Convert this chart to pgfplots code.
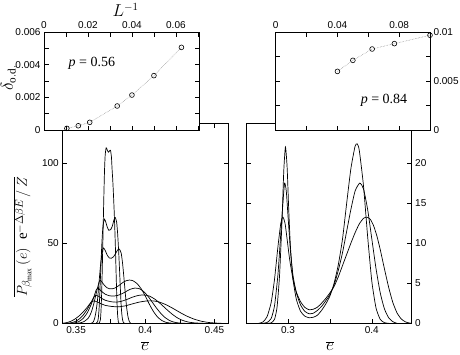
\documentclass[border=0pt]{standalone}
\usepackage{fontspec}
\setmainfont{Liberation Serif}
\setsansfont{Liberation Sans}
\usepackage{pgfplots}
\pgfplotsset{compat=1.18}

\pgfplotsset{
  panel/.style={
    scale only axis,
    axis line style={line width=0.8pt},
    tick style={line width=0.6pt, black},
    major tick length=4.5pt, minor tick length=4.5pt,
    ticklabel style={font=\sffamily\fontsize{10}{11}\selectfont},
    /pgf/number format/assume math mode=true,
    /pgf/number format/fixed,
    scaled ticks=false,
  },
  dist/.style={black, line width=0.7pt, smooth, tension=0.35, no marks},
  od/.style={gray, line width=0.5pt, densely dotted, mark=o,
    mark size=2.4pt, mark options={solid, black, line width=0.6pt}},
}

\begin{document}
\begin{tikzpicture}[x=1pt, y=1pt]
\useasboundingbox (0,0) rectangle (460,354);

% ---------------- p = 0.56 : energy distributions ----------------
\begin{axis}[panel, at={(62.3pt,30.7pt)}, anchor=south west,
  width=166pt, height=200.3pt,
  xmin=0.34, xmax=0.46, ymin=0, ymax=125,
  xtick={0.35,0.4,0.45}, minor xtick={0.375,0.425},
  ytick={0,50,100},
  xticklabel style={/pgf/number format/precision=2}]
% L = 96
\addplot[dist] coordinates {
 (0.3665,0) (0.3675,2) (0.368,8) (0.3685,20) (0.369,38) (0.3695,58)
 (0.370,78) (0.3705,95) (0.371,105) (0.3717,109.5) (0.3725,108.2)
 (0.3733,106.8) (0.374,107.4) (0.3748,108) (0.3755,104) (0.376,96)
 (0.3765,89) (0.377,80) (0.3775,70) (0.378,58) (0.3785,44) (0.379,28)
 (0.3795,14) (0.380,5) (0.3805,1) (0.381,0)};
% L = 64
\addplot[dist] coordinates {
 (0.3645,0) (0.3655,1) (0.366,3) (0.3665,8) (0.367,16) (0.3675,27)
 (0.368,38) (0.3685,48) (0.369,56) (0.3695,61.5) (0.3705,65) (0.3715,63)
 (0.3725,60) (0.3737,58) (0.375,58.5) (0.3763,61) (0.3773,64.5)
 (0.3783,66) (0.3793,63) (0.380,56) (0.3808,44) (0.3815,31) (0.382,21)
 (0.3825,12) (0.383,6) (0.3835,2.5) (0.384,0.8) (0.385,0)};
% L = 48
\addplot[dist] coordinates {
 (0.361,0) (0.3625,1) (0.3635,3.5) (0.3645,8) (0.3655,15) (0.3665,25)
 (0.3675,35) (0.3685,42.5) (0.3697,47) (0.371,45.5) (0.3725,42.5)
 (0.374,40.8) (0.3754,40.6) (0.377,41.5) (0.3785,43.5) (0.380,45.8)
 (0.3812,46.3) (0.3825,44) (0.3835,38) (0.3845,29) (0.3855,19)
 (0.3865,10) (0.3875,4) (0.3885,1) (0.3895,0)};
% L = 30
\addplot[dist] coordinates {
 (0.350,0) (0.353,0.3) (0.356,1.2) (0.359,3.5) (0.361,7) (0.363,13)
 (0.365,20.5) (0.3665,25.5) (0.3673,27) (0.368,26.5) (0.370,24.2)
 (0.372,22.3) (0.374,21.6) (0.376,21.5) (0.378,22) (0.380,23)
 (0.382,24.3) (0.384,25.6) (0.386,26.5) (0.3885,27) (0.391,26.6)
 (0.394,24.8) (0.397,21.6) (0.400,17) (0.403,11.8) (0.406,7.2)
 (0.409,3.8) (0.412,1.7) (0.415,0.6) (0.418,0.15) (0.421,0)};
% L = 25
\addplot[dist] coordinates {
 (0.346,0) (0.349,0.3) (0.352,1.1) (0.355,3) (0.358,6.5) (0.361,12)
 (0.363,17) (0.3645,20.8) (0.3655,22) (0.3665,21.6) (0.368,20.2)
 (0.371,18.2) (0.374,17.2) (0.377,17) (0.380,17.4) (0.383,18.4)
 (0.386,19.8) (0.389,21.2) (0.3925,22) (0.396,21.5) (0.399,19.7)
 (0.402,16.8) (0.405,13.2) (0.408,9.6) (0.411,6.4) (0.414,3.8)
 (0.417,2.0) (0.420,0.9) (0.423,0.35) (0.426,0.1) (0.429,0)};
% L = 20
\addplot[dist] coordinates {
 (0.343,0) (0.346,0.3) (0.349,1) (0.352,2.5) (0.355,5) (0.358,8.7)
 (0.361,13.5) (0.363,16.5) (0.364,17.4) (0.3655,17.2) (0.368,15.8)
 (0.371,14.4) (0.375,13.5) (0.379,13.2) (0.383,13.8) (0.387,15)
 (0.391,16.4) (0.395,17.4) (0.399,17.7) (0.403,17) (0.407,15)
 (0.411,12.2) (0.415,9) (0.419,6) (0.423,3.5) (0.427,1.8) (0.431,0.8)
 (0.435,0.3) (0.439,0.08) (0.442,0)};
% L = 16
\addplot[dist] coordinates {
 (0.340,0) (0.343,0.4) (0.346,1.2) (0.349,2.6) (0.352,4.5) (0.355,7)
 (0.358,10) (0.3605,12.8) (0.3625,14) (0.364,13.8) (0.367,12.6)
 (0.371,11.2) (0.376,10.5) (0.381,10.3) (0.386,11) (0.391,12.2)
 (0.396,13.3) (0.4005,13.9) (0.4055,14) (0.410,13.3) (0.415,11.6)
 (0.420,9.3) (0.425,6.8) (0.430,4.5) (0.435,2.7) (0.440,1.4)
 (0.445,0.6) (0.450,0.2) (0.455,0)};
\end{axis}

% ---------------- p = 0.84 : energy distributions ----------------
\begin{axis}[panel, at={(246pt,30.7pt)}, anchor=south west,
  width=165.7pt, height=200.3pt,
  xmin=0.25, xmax=0.4475, ymin=0, ymax=25,
  xtick={0.3,0.4}, minor xtick={0.25,0.35,0.45},
  ytick={0,5,10,15,20}, yticklabel pos=right,
  xticklabel style={/pgf/number format/precision=2}]
\addplot[dist] coordinates {
 (0.275,0) (0.280,0.05) (0.284,0.5) (0.287,2) (0.290,6) (0.293,13)
 (0.295,19) (0.297,22) (0.299,19.5) (0.301,14) (0.303,9.5) (0.306,5.5)
 (0.310,3) (0.315,1.5) (0.320,0.9) (0.325,0.7) (0.330,0.75) (0.335,1.0)
 (0.340,1.6) (0.345,2.4) (0.350,3.4) (0.355,5.0) (0.360,7.3) (0.365,10.5)
 (0.370,15) (0.375,19.3) (0.380,22.1) (0.3825,22.4) (0.385,21.6)
 (0.390,17.2) (0.395,10.8) (0.400,5.2) (0.405,1.9) (0.410,0.5)
 (0.415,0.08) (0.420,0)};
\addplot[dist] coordinates {
 (0.270,0) (0.275,0.1) (0.280,0.6) (0.284,2.2) (0.288,6) (0.291,10.5)
 (0.294,15) (0.296,17.5) (0.298,16.5) (0.300,13.5) (0.303,9) (0.306,6)
 (0.310,3.8) (0.315,2.3) (0.320,1.5) (0.325,1.2) (0.330,1.25) (0.335,1.6)
 (0.340,2.1) (0.345,2.8) (0.350,3.6) (0.355,4.8) (0.360,6.6) (0.365,8.8)
 (0.370,11.5) (0.375,14.2) (0.380,16.5) (0.3855,17.5) (0.390,16.8)
 (0.395,14.2) (0.400,10.5) (0.405,6.8) (0.410,3.8) (0.415,1.8)
 (0.420,0.7) (0.425,0.2) (0.430,0)};
\addplot[dist] coordinates {
 (0.265,0) (0.270,0.15) (0.275,0.8) (0.280,2.6) (0.284,5.5) (0.288,9.5)
 (0.2915,12.5) (0.294,13.25) (0.2965,12.5) (0.299,10.5) (0.302,8)
 (0.306,5.5) (0.310,3.9) (0.315,2.7) (0.320,2.0) (0.325,1.7) (0.330,1.75)
 (0.335,2.0) (0.340,2.5) (0.345,3.1) (0.350,3.8) (0.355,4.6) (0.360,5.8)
 (0.365,7.2) (0.370,8.6) (0.375,10.0) (0.380,11.3) (0.385,12.4)
 (0.390,13.1) (0.394,13.25) (0.398,13.0) (0.402,12.2) (0.406,10.9)
 (0.410,9.2) (0.415,6.8) (0.420,4.5) (0.425,2.6) (0.430,1.3)
 (0.435,0.55) (0.440,0.18) (0.445,0.03) (0.45,0)};
\end{axis}

% ---------------- order-disorder gap, p = 0.56 ----------------
\begin{axis}[panel, at={(44pt,224pt)}, anchor=south west,
  width=155pt, height=98pt, clip=false,
  axis background/.style={fill=white},
  xmin=0, xmax=0.0705, ymin=0, ymax=0.006,
  xtick={0,0.02,0.04,0.06}, minor xtick={0.01,0.03,0.05,0.07},
  ytick={0,0.002,0.004,0.006}, minor ytick={0.001,0.003,0.005},
  xticklabel pos=upper,
  xticklabel style={/pgf/number format/precision=2},
  yticklabel style={/pgf/number format/precision=3}]
\addplot[od] coordinates {
 (0.0104,0.00010) (0.0156,0.00026) (0.0208,0.00047) (0.0333,0.00147)
 (0.0400,0.00214) (0.0500,0.00333) (0.0625,0.00506)};
\node[font=\fontsize{14}{15}\selectfont] at (axis cs:0.0218,0.0041)
  {\textit{p} = 0.56};
\end{axis}

% ---------------- order-disorder gap, p = 0.84 ----------------
\begin{axis}[panel, at={(275.7pt,224pt)}, anchor=south west,
  width=154.3pt, height=97.7pt, clip=false,
  axis background/.style={fill=white},
  xmin=0, xmax=0.1, ymin=0, ymax=0.01,
  xtick={0,0.04,0.08}, minor xtick={0.02,0.06,0.1},
  ytick={0,0.005,0.01}, minor ytick={0.0025,0.0075},
  xticklabel pos=upper, yticklabel pos=right,
  xticklabel style={/pgf/number format/precision=2},
  yticklabel style={/pgf/number format/precision=3}]
\addplot[od] coordinates {
 (0.0400,0.00600) (0.0500,0.00713) (0.0625,0.00829) (0.0769,0.00884)
 (0.1000,0.00970)};
\node[font=\fontsize{14}{15}\selectfont] at (axis cs:0.0702,0.00307)
  {\textit{p} = 0.84};
\end{axis}

% axis titles
\node[anchor=base west, font=\fontsize{16}{17}\selectfont] at (109,337) {$L^{-1}$};
\node[rotate=90, anchor=base, font=\fontsize{16}{17}\selectfont] at (13,276)
  {$\delta_{\mathrm{o.d.}}$};
\node[rotate=90, anchor=base, font=\fontsize{15}{17}\selectfont] at (27,117)
  {$\overline{P_{\beta_{\mathrm{max}}}\,(e)\;\;\mathrm{e}^{-\Delta\beta E}\,/\,Z}$};
\node[font=\fontsize{16}{17}\selectfont] at (145,8) {$\overline{e}$};
\node[font=\fontsize{16}{17}\selectfont] at (330,8) {$\overline{e}$};
\end{tikzpicture}
\end{document}
